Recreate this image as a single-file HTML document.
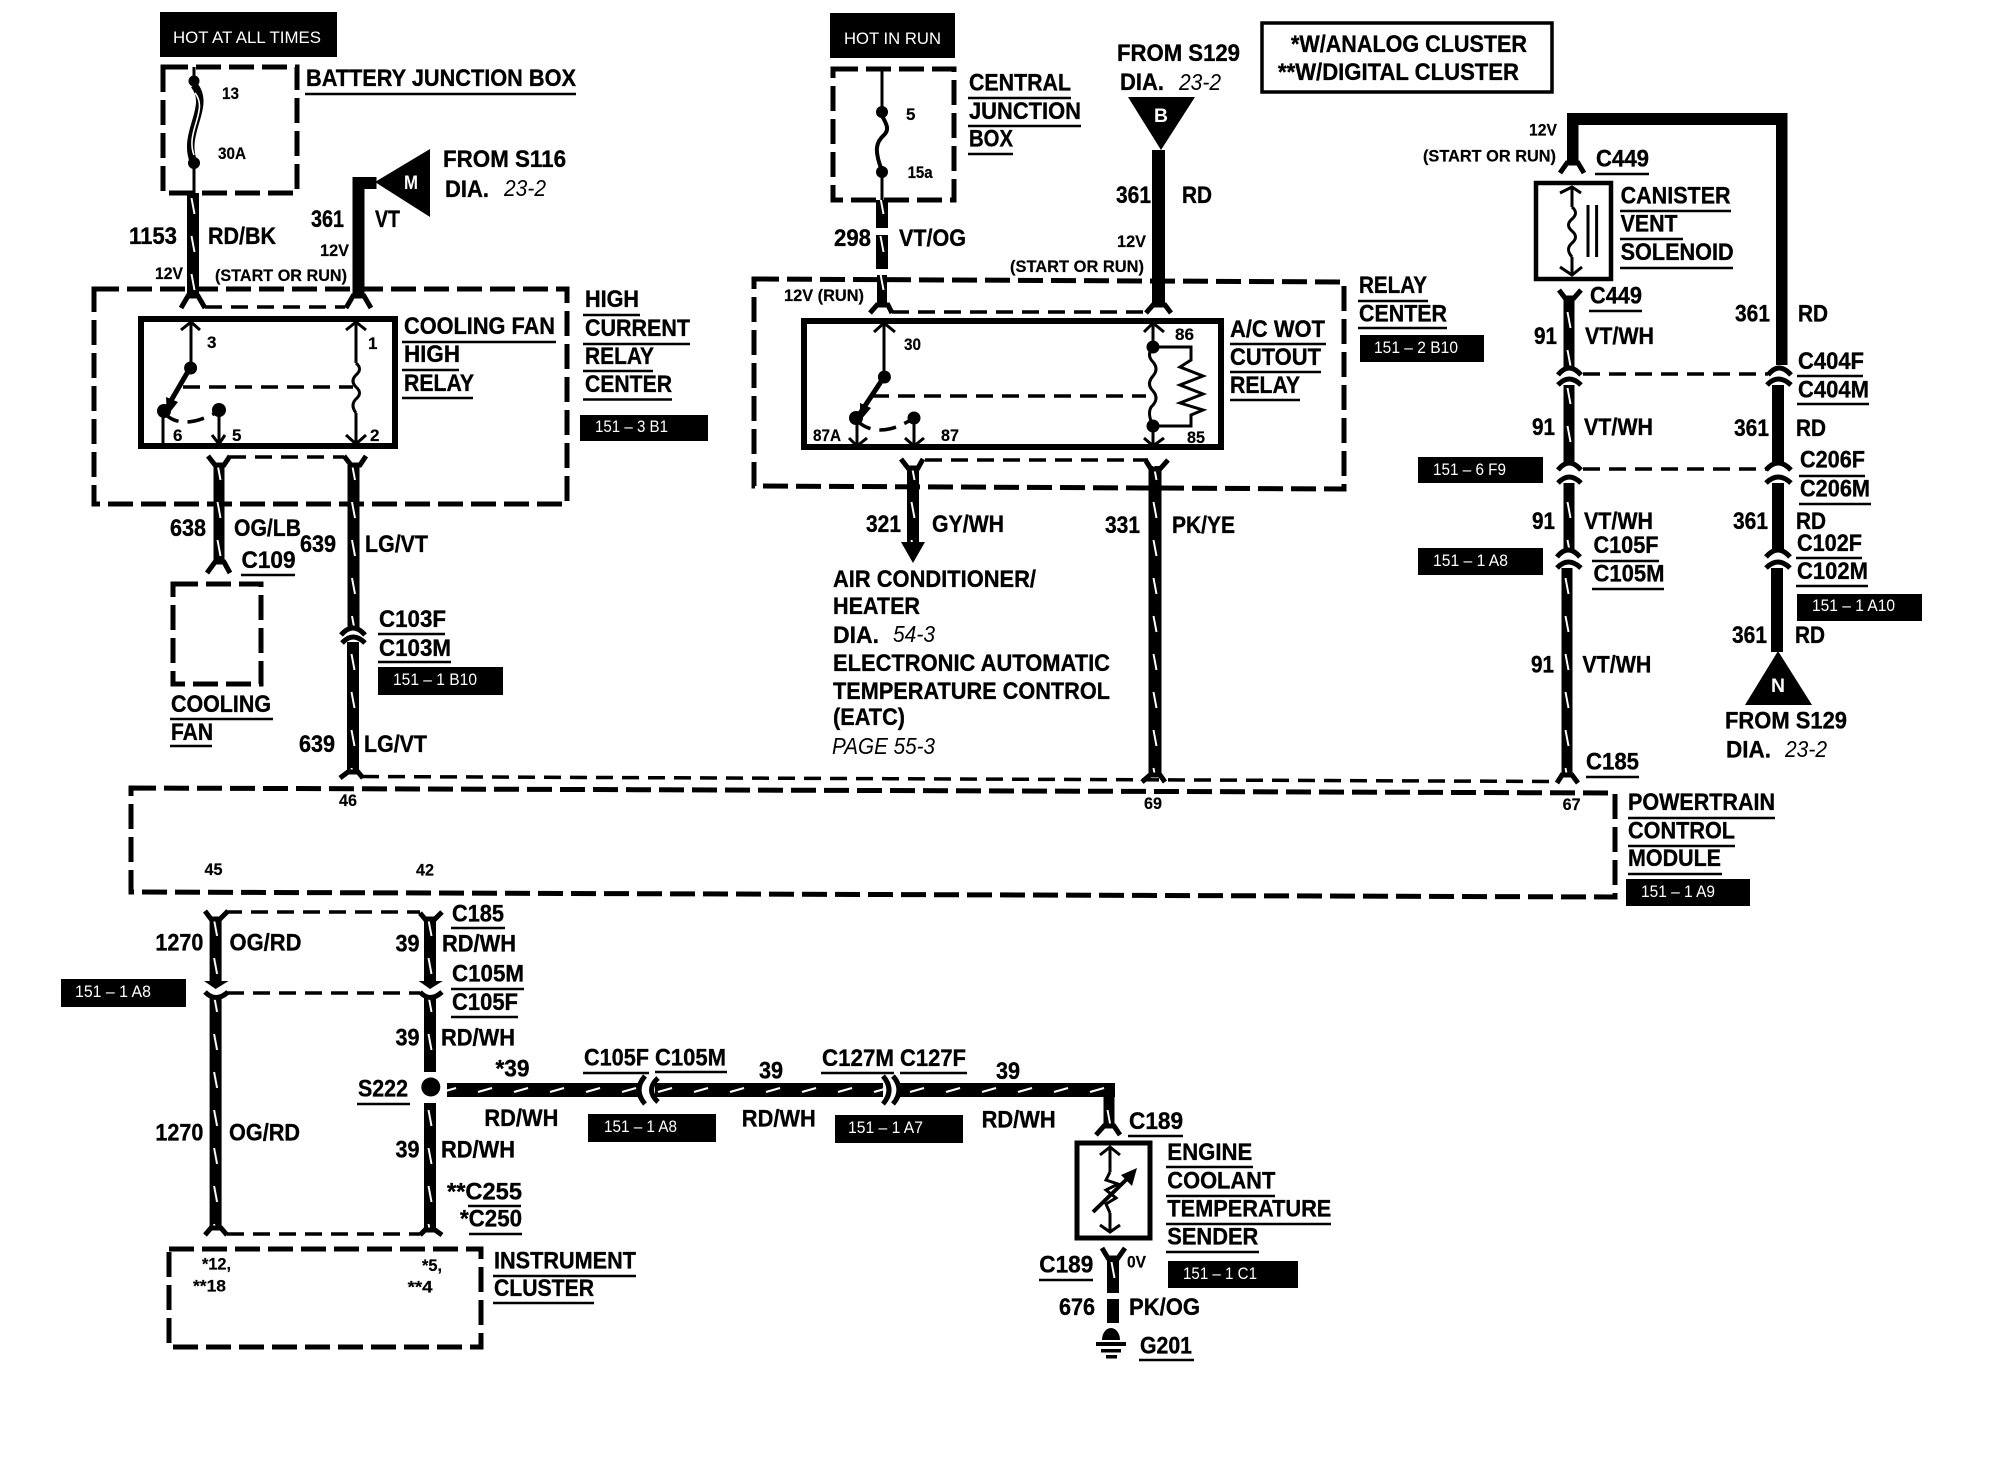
<!DOCTYPE html>
<html><head><meta charset="utf-8"><style>
html,body{margin:0;padding:0;background:#fff}
svg{display:block}
text{font-family:"Liberation Sans",sans-serif;font-weight:bold;font-size:24px;fill:#000;stroke:#000;stroke-width:.35px}
.s{font-size:17px;stroke-width:.2px}
.t{font-size:17px;font-weight:normal;fill:#fff;stroke:none}
.i{font-size:23px;font-weight:normal;font-style:italic;stroke:none}
.w{fill:#fff;font-size:19px;stroke:none}
.d5{fill:none;stroke:#000;stroke-width:5;stroke-dasharray:25 8}
.d3{fill:none;stroke:#000;stroke-width:3.5;stroke-dasharray:17 9}
.l{fill:none;stroke:#000;stroke-width:3}
.c{fill:none;stroke:#000;stroke-width:5}
.u{fill:none;stroke:#000;stroke-width:2.5}
</style></head><body>
<svg xmlns="http://www.w3.org/2000/svg" width="1998" height="1472" viewBox="0 0 1998 1472">
<defs>
<pattern id="v" patternUnits="userSpaceOnUse" x="-6" y="0" width="12" height="38"><rect x="0" y="0" width="12" height="38" fill="#000"/><line x1="4.5" y1="8" x2="7.5" y2="24" stroke="#fff" stroke-width="2"/></pattern>
<pattern id="h" patternUnits="userSpaceOnUse" x="0" y="-7" width="36" height="14"><rect x="0" y="0" width="36" height="14" fill="#000"/><line x1="10" y1="9" x2="24" y2="5" stroke="#fff" stroke-width="2.2"/></pattern>
</defs>
<rect width="1998" height="1472" fill="#fff"/>

<!-- black tags -->
<g fill="#000">
<rect x="160" y="12" width="177" height="45"/><rect x="830" y="13" width="125" height="45"/>
<rect x="580" y="415" width="128" height="26"/><rect x="378" y="667" width="125" height="28"/>
<rect x="1360" y="335" width="124" height="27"/><rect x="1418" y="457" width="125" height="26"/>
<rect x="1418" y="548" width="125" height="27"/><rect x="1797" y="594" width="125" height="27"/>
<rect x="1626" y="879" width="124" height="27"/><rect x="61" y="979" width="125" height="28"/>
<rect x="588" y="1114" width="128" height="28"/><rect x="835" y="1115" width="128" height="28"/>
<rect x="1168" y="1261" width="130" height="27"/>
</g>
<text class="t" x="173" y="43" textLength="148" lengthAdjust="spacingAndGlyphs">HOT AT ALL TIMES</text>
<text class="t" x="844" y="44" textLength="97" lengthAdjust="spacingAndGlyphs">HOT IN RUN</text>
<text class="t" x="595" y="432" textLength="73" lengthAdjust="spacingAndGlyphs">151 – 3 B1</text>
<text class="t" x="393" y="685" textLength="84" lengthAdjust="spacingAndGlyphs">151 – 1 B10</text>
<text class="t" x="1374" y="353" textLength="84" lengthAdjust="spacingAndGlyphs">151 – 2 B10</text>
<text class="t" x="1433" y="475" textLength="73" lengthAdjust="spacingAndGlyphs">151 – 6 F9</text>
<text class="t" x="1433" y="566" textLength="75" lengthAdjust="spacingAndGlyphs">151 – 1 A8</text>
<text class="t" x="1812" y="611" textLength="83" lengthAdjust="spacingAndGlyphs">151 – 1 A10</text>
<text class="t" x="1641" y="897" textLength="74" lengthAdjust="spacingAndGlyphs">151 – 1 A9</text>
<text class="t" x="75" y="997" textLength="76" lengthAdjust="spacingAndGlyphs">151 – 1 A8</text>
<text class="t" x="604" y="1132" textLength="73" lengthAdjust="spacingAndGlyphs">151 – 1 A8</text>
<text class="t" x="848" y="1133" textLength="75" lengthAdjust="spacingAndGlyphs">151 – 1 A7</text>
<text class="t" x="1183" y="1279" textLength="74" lengthAdjust="spacingAndGlyphs">151 – 1 C1</text>

<!-- dashed module boxes -->
<path class="d5" d="M163 67H297V193H163Z"/>
<path class="d5" d="M94 289H567V504H94Z"/>
<path class="d5" d="M833 69H954V200H833Z"/>
<path class="d5" d="M754 279L1344 282V489L754 486Z"/>
<path class="d5" d="M173 584H261V684H173Z"/>
<path class="d5" d="M131 788L1615 793V897L131 892Z"/>
<path class="d5" d="M169 1249H481V1347H169Z"/>

<!-- thin dashed links -->
<path class="d3" d="M205 307H345M229 457H344M892 312H1148M925 460H1148M1583 374H1768M1583 469H1768M362 776.5L1557 781.5M225 912H420M227 993H420M227 1234H420"/>

<!-- solid boxes -->
<g fill="none" stroke="#000">
<rect x="141" y="319" width="254" height="127" stroke-width="6"/>
<rect x="804" y="321" width="417" height="126" stroke-width="6"/>
<rect x="1536" y="183" width="75" height="96" stroke-width="4.5"/>
<rect x="1077" y="1143" width="73" height="95" stroke-width="5"/>
<rect x="1262" y="23" width="290" height="69" stroke-width="3.5"/>
</g>

<!-- striped wires -->
<g fill="url(#v)">
<rect transform="translate(193,0)" x="-6" y="193" width="12" height="102"/>
<rect transform="translate(219,0)" x="-5.5" y="465" width="11" height="98"/>
<rect transform="translate(353.5,0)" x="-6" y="465" width="12" height="162"/>
<rect transform="translate(353,0)" x="-6" y="642" width="12" height="131"/>
<rect transform="translate(882,0)" x="-6" y="200" width="12" height="28"/>
<rect transform="translate(882,0)" x="-6" y="235" width="12" height="34"/>
<rect transform="translate(882,0)" x="-5" y="275" width="10" height="32"/>
<rect transform="translate(913,0)" x="-6" y="466" width="12" height="76"/>
<rect transform="translate(1155,0)" x="-6.5" y="466" width="13" height="309"/>
<rect transform="translate(1569,0)" x="-5.5" y="298" width="11" height="70"/>
<rect transform="translate(1569,0)" x="-5.5" y="385" width="11" height="78"/>
<rect transform="translate(1569,0)" x="-5.5" y="483" width="11" height="67"/>
<rect transform="translate(1567,0)" x="-5.5" y="568" width="11" height="207"/>
<rect transform="translate(215.6,0)" x="-6" y="918" width="12" height="64"/>
<rect transform="translate(215.6,0)" x="-6" y="998" width="12" height="230"/>
<rect transform="translate(430,0)" x="-6" y="918" width="12" height="64"/>
<rect transform="translate(430,0)" x="-6" y="998" width="12" height="74"/>
<rect transform="translate(430,0)" x="-6" y="1103" width="12" height="127"/>
<rect transform="translate(1109,0)" x="-5.5" y="1090" width="11" height="36"/>
<rect transform="translate(1113,0)" x="-6" y="1258" width="12" height="35"/>
</g>
<g fill="url(#h)">
<rect transform="translate(0,1090)" x="447" y="-7" width="191" height="14"/>
<rect transform="translate(0,1090)" x="655" y="-7" width="228" height="14"/>
<rect transform="translate(0,1090)" x="900" y="-7" width="215" height="14"/>
</g>

<!-- solid wires -->
<g fill="#000">
<rect x="352.5" y="177" width="12" height="118"/><rect x="352.5" y="177" width="24" height="12"/>
<rect x="1152" y="150" width="13" height="155"/>
<rect x="1567" y="113" width="220" height="12"/><rect x="1567" y="113" width="11.5" height="50"/><rect x="1776" y="113" width="11.5" height="252"/>
<rect x="1772" y="385" width="12" height="78"/><rect x="1772" y="483" width="12" height="67"/><rect x="1771" y="568" width="12" height="84"/>
<rect x="1107" y="1299" width="12" height="24"/>
<path d="M375 182L430 149V217Z"/>
<path d="M1128 97H1195L1161 150Z"/>
<path d="M1778 651L1745 705H1812Z"/>
<path d="M901 542H925L913 563Z"/>
<path d="M204 981L228.6 981L215.6 989Z"/>
<path d="M418.7 981L442.8 981L430 989Z"/>
<circle cx="430.8" cy="1087" r="9.5"/>
<path d="M1102 1340a9 12 0 0 1 18 0Z"/><rect x="1096" y="1342" width="30" height="4"/><rect x="1101" y="1349" width="20" height="3.5"/><rect x="1106" y="1355" width="11" height="3.5"/>
</g>
<text class="w" x="404" y="189" textLength="14" lengthAdjust="spacingAndGlyphs">M</text>
<text class="w" x="1154" y="122" textLength="14" lengthAdjust="spacingAndGlyphs">B</text>
<text class="w" x="1771" y="692" textLength="14" lengthAdjust="spacingAndGlyphs">N</text>

<!-- connectors -->
<path class="c" d="M181 308L188 296H198L205 308M346 308L353 296H364L371 308
M208 456L215 465H224L230 456M344 456L351 465H360L366 456
M207 573L215 562H224L230 573M341 635Q353 621 365 635M342 643Q353 631 365 643M340 778L348 772H358L363 778
M870 313L877 305H888L892 313M1146 313L1153 305H1165L1171 313
M901 459L908 468H918L923 459M1146 461L1151 469H1160L1168 460
M1142 782L1150 775H1160L1165 782
M1560 173L1567 163H1578L1584 173M1559 290L1565 298H1574L1581 290M1558 375Q1569 361 1581 375M1768 375Q1779 361 1791 375M1558 385Q1569 373 1581 385M1767 385Q1778 373 1791 385
M1558 470Q1569 456 1581 470M1766 470Q1778 456 1791 470M1558 483Q1569 471 1581 483M1766 483Q1778 471 1791 483
M1557 557Q1568 543 1580 557M1766 557Q1778 543 1790 557M1557 568Q1568 556 1581 568M1766 568Q1778 556 1790 568M1557 783L1562 775H1572L1578 783
M205 911L211 919H220L228 911M420 913L425 919H435L442 912M205 992Q216 1003 228 992M420 992Q430 1003 442 992M205 1235L211 1228H221L227 1235M420 1235L425 1230H435L442 1235
M645 1076Q633 1090 645 1104M658 1078Q645 1090 658 1102M883 1076Q895 1090 883 1104M893 1076Q905 1090 893 1104
M1096 1135L1104 1126H1114L1120 1135M1102 1248L1108 1258H1118L1125 1248"/>

<!-- fuses -->
<path class="l" d="M194 67V81M194 163V193M882 69V112M882 172V200" stroke-width="3.5"/>
<path fill="none" stroke="#000" stroke-width="7.5" d="M194 85C212 107 181 133 194 163"/>
<path fill="none" stroke="#fff" stroke-width="1.6" d="M195 93C209 110 185 132 194 155"/>
<path fill="none" stroke="#000" stroke-width="4" d="M881 114C888 126 889 130 884 135C876 142 874 150 881.700 170"/>
<g fill="#000"><circle cx="194" cy="81" r="5.500"/><circle cx="194" cy="163" r="6"/><circle cx="882" cy="112" r="6"/><circle cx="882" cy="172" r="6"/></g>

<!-- cooling fan relay internals -->
<path class="l" d="M191 322V368M181 330L191 322L200 330M356 322V363M346 330L356 322L366 330M356 413V446M346 435L356 444L366 435M219 411V446M212 435L219 444L225 435M163 411V446"/>
<path fill="none" stroke="#000" stroke-width="5" d="M190 368L165 411"/>
<path d="M166 397L178 402L167 416Z" fill="#000"/>
<path class="d3" d="M183 387H353"/>
<path class="d3" stroke-dasharray="13 5" d="M164 413Q182 432 219 411"/>
<path class="l" stroke-width="4" d="M356 363q7 6 0 12q-6 6 0 12q7 6 0 12q-6 6 0 14"/>
<g fill="#000"><circle cx="190.600" cy="368" r="6.500"/><circle cx="164" cy="411" r="7"/><circle cx="219" cy="410" r="7"/></g>

<!-- A/C relay internals -->
<path class="l" d="M884 323V377M874 332L884 323L895 332M857 418V446M849 438L857 446L867 438M914 418V446M905 438L914 446L924 438M1153 323V347M1144 332L1153 323L1164 332M1153 426V446M1144 438L1153 446L1164 438M1153 347H1191V360L1180 367L1203 376L1180 385L1203 394L1180 403L1203 410L1191 415V426H1153"/>
<path fill="none" stroke="#000" stroke-width="5" d="M884 377L857 418"/>
<path d="M860 403L871 408L860 421Z" fill="#000"/>
<path class="d3" d="M872 396H1146"/>
<path class="d3" stroke-dasharray="13 5" d="M856 420Q878 441 914 418"/>
<path class="l" stroke-width="4" d="M1153 347q-7 8 0 15q6 7 0 14q-7 8 0 15q6 7 0 14q-7 6 0 21"/>
<g fill="#000"><circle cx="884.400" cy="377" r="6.500"/><circle cx="856" cy="418" r="7"/><circle cx="914" cy="418" r="6.500"/><circle cx="1153" cy="347" r="6.500"/><circle cx="1153" cy="426" r="6.500"/></g>

<!-- solenoid internals -->
<path class="l" d="M1572 187V207M1560 193L1572 187L1581 193M1572 257V275M1560 267L1572 275L1582 267"/>
<path class="l" stroke-width="4" d="M1572 207q7 6 0 12q-7 6 0 12q7 6 0 12q-7 6 0 14"/>
<path class="l" d="M1588 205V257M1596.600 205V257"/>

<!-- sender internals -->
<path class="l" d="M1110 1147V1172M1100 1155L1110 1147L1120 1155M1110 1213V1232M1100 1225L1110 1232L1120 1225M1110 1172L1106 1180L1118 1184L1106 1190L1116 1198L1106 1204L1110 1213"/>
<path fill="none" stroke="#000" stroke-width="4" d="M1093 1212L1130 1176"/>
<path d="M1137 1168L1132 1186L1121 1175Z" fill="#000"/>

<!-- underlines -->
<path class="u" d="M305 94H576M402 342H556M402 370H459M402 398H473M583 315H640M583 344H690M583 371H653M583 399.500H672
M968 98H1071M968 126H1081M968 154H1013M1230 344H1326M1230 372H1321M1230 400H1300M1358 301H1428M1358 328H1447
M1595 174H1649M1620 211H1731M1620 239H1683M1620 268H1733M1589 311H1642M1797 376H1863M1797 404H1869M1799 476H1865M1799 504H1871
M1592 561H1659M1592 589H1664M1796 558H1862M1796 586H1868M1586 777H1639M1628 818H1775M1628 846H1735M1628 874H1722
M241 575H295M378 634H445M378 662H451M170 719H273M170 746H212
M451 928H505M451 989H524M451 1017H518M357 1104H410M583 1073H649M655 1072H727M821 1073H894M900 1073H967
M468 1206H521M469 1234H522M493 1276H636M493 1303H594M1128 1136H1183M1166 1167H1253M1166 1196H1275M1166 1224H1331M1166 1252H1259M1039 1280H1093M1139 1360H1194"/>

<!-- titles and labels -->
<text x="306" y="86" textLength="270" lengthAdjust="spacingAndGlyphs">BATTERY JUNCTION BOX</text>
<text class="s" x="222" y="99" textLength="17" lengthAdjust="spacingAndGlyphs">13</text>
<text class="s" x="218" y="159" textLength="28" lengthAdjust="spacingAndGlyphs">30A</text>
<text x="129" y="244" textLength="48" lengthAdjust="spacingAndGlyphs">1153</text>
<text x="208" y="244" textLength="68" lengthAdjust="spacingAndGlyphs">RD/BK</text>
<text class="s" x="155" y="279" textLength="28" lengthAdjust="spacingAndGlyphs">12V</text>
<text class="s" x="215" y="281" textLength="132" lengthAdjust="spacingAndGlyphs">(START OR RUN)</text>
<text class="s" x="320" y="256" textLength="29" lengthAdjust="spacingAndGlyphs">12V</text>
<text x="443" y="167" textLength="123" lengthAdjust="spacingAndGlyphs">FROM S116</text>
<text x="445" y="197" textLength="44" lengthAdjust="spacingAndGlyphs">DIA.</text>
<text class="i" x="504" y="196" textLength="42" lengthAdjust="spacingAndGlyphs">23-2</text>
<text x="311" y="227" textLength="33" lengthAdjust="spacingAndGlyphs">361</text>
<text x="375" y="227" textLength="25" lengthAdjust="spacingAndGlyphs">VT</text>
<text x="404" y="334" textLength="151" lengthAdjust="spacingAndGlyphs">COOLING FAN</text>
<text x="404" y="362" textLength="56" lengthAdjust="spacingAndGlyphs">HIGH</text>
<text x="404" y="391" textLength="70" lengthAdjust="spacingAndGlyphs">RELAY</text>
<text x="585" y="307" textLength="54" lengthAdjust="spacingAndGlyphs">HIGH</text>
<text x="585" y="336" textLength="105" lengthAdjust="spacingAndGlyphs">CURRENT</text>
<text x="585" y="364" textLength="69" lengthAdjust="spacingAndGlyphs">RELAY</text>
<text x="585" y="392" textLength="87" lengthAdjust="spacingAndGlyphs">CENTER</text>
<text class="s" x="207" y="348">3</text><text class="s" x="368" y="349">1</text>
<text class="s" x="173" y="441">6</text><text class="s" x="232" y="441">5</text><text class="s" x="370" y="441">2</text>
<text x="170" y="536" textLength="36" lengthAdjust="spacingAndGlyphs">638</text>
<text x="234" y="536" textLength="67" lengthAdjust="spacingAndGlyphs">OG/LB</text>
<text x="241.500" y="568" textLength="54" lengthAdjust="spacingAndGlyphs">C109</text>
<text x="300" y="552" textLength="36" lengthAdjust="spacingAndGlyphs">639</text>
<text x="365" y="552" textLength="63" lengthAdjust="spacingAndGlyphs">LG/VT</text>
<text x="379" y="627" textLength="67" lengthAdjust="spacingAndGlyphs">C103F</text>
<text x="379" y="656" textLength="72" lengthAdjust="spacingAndGlyphs">C103M</text>
<text x="171" y="712" textLength="100" lengthAdjust="spacingAndGlyphs">COOLING</text>
<text x="171" y="740" textLength="42" lengthAdjust="spacingAndGlyphs">FAN</text>
<text x="299" y="752" textLength="36" lengthAdjust="spacingAndGlyphs">639</text>
<text x="364" y="752" textLength="63" lengthAdjust="spacingAndGlyphs">LG/VT</text>
<text class="s" x="339" y="806" textLength="18" lengthAdjust="spacingAndGlyphs">46</text>
<text class="s" x="204.500" y="875" textLength="18" lengthAdjust="spacingAndGlyphs">45</text>
<text class="s" x="416" y="875.500" textLength="18" lengthAdjust="spacingAndGlyphs">42</text>

<text class="s" x="906" y="120">5</text>
<text class="s" x="907.600" y="178" textLength="25" lengthAdjust="spacingAndGlyphs">15a</text>
<text x="969" y="90.700" textLength="102" lengthAdjust="spacingAndGlyphs">CENTRAL</text>
<text x="969" y="119" textLength="112" lengthAdjust="spacingAndGlyphs">JUNCTION</text>
<text x="969" y="146.700" textLength="44" lengthAdjust="spacingAndGlyphs">BOX</text>
<text x="834" y="246" textLength="37" lengthAdjust="spacingAndGlyphs">298</text>
<text x="899" y="246" textLength="67" lengthAdjust="spacingAndGlyphs">VT/OG</text>
<text class="s" x="784" y="301" textLength="80" lengthAdjust="spacingAndGlyphs">12V (RUN)</text>
<text x="1117" y="61" textLength="123" lengthAdjust="spacingAndGlyphs">FROM S129</text>
<text x="1120" y="90" textLength="44" lengthAdjust="spacingAndGlyphs">DIA.</text>
<text class="i" x="1179" y="90" textLength="42" lengthAdjust="spacingAndGlyphs">23-2</text>
<text x="1116" y="203" textLength="35" lengthAdjust="spacingAndGlyphs">361</text>
<text x="1182" y="203" textLength="30" lengthAdjust="spacingAndGlyphs">RD</text>
<text class="s" x="1117" y="247" textLength="29" lengthAdjust="spacingAndGlyphs">12V</text>
<text class="s" x="1010" y="272" textLength="134" lengthAdjust="spacingAndGlyphs">(START OR RUN)</text>
<text class="s" x="813" y="441" textLength="28" lengthAdjust="spacingAndGlyphs">87A</text>
<text class="s" x="941" y="441" textLength="18" lengthAdjust="spacingAndGlyphs">87</text>
<text class="s" x="904" y="350" textLength="17" lengthAdjust="spacingAndGlyphs">30</text>
<text class="s" x="1175" y="340" textLength="19" lengthAdjust="spacingAndGlyphs">86</text>
<text class="s" x="1187" y="443" textLength="18" lengthAdjust="spacingAndGlyphs">85</text>
<text x="1230" y="337" textLength="95" lengthAdjust="spacingAndGlyphs">A/C WOT</text>
<text x="1230" y="365" textLength="91" lengthAdjust="spacingAndGlyphs">CUTOUT</text>
<text x="1230" y="393" textLength="70" lengthAdjust="spacingAndGlyphs">RELAY</text>
<text x="1359" y="293" textLength="68" lengthAdjust="spacingAndGlyphs">RELAY</text>
<text x="1359" y="321.700" textLength="88" lengthAdjust="spacingAndGlyphs">CENTER</text>
<text x="1291" y="52" textLength="236" lengthAdjust="spacingAndGlyphs">*W/ANALOG CLUSTER</text>
<text x="1278" y="80" textLength="241" lengthAdjust="spacingAndGlyphs">**W/DIGITAL CLUSTER</text>

<text x="866" y="532" textLength="35" lengthAdjust="spacingAndGlyphs">321</text>
<text x="932" y="532" textLength="72" lengthAdjust="spacingAndGlyphs">GY/WH</text>
<text x="1105" y="533" textLength="35" lengthAdjust="spacingAndGlyphs">331</text>
<text x="1172" y="533" textLength="63" lengthAdjust="spacingAndGlyphs">PK/YE</text>
<text x="833" y="587" textLength="203" lengthAdjust="spacingAndGlyphs">AIR CONDITIONER/</text>
<text x="833" y="614" textLength="87" lengthAdjust="spacingAndGlyphs">HEATER</text>
<text x="833" y="643" textLength="46" lengthAdjust="spacingAndGlyphs">DIA.</text>
<text class="i" x="893" y="642" textLength="42" lengthAdjust="spacingAndGlyphs">54-3</text>
<text x="833" y="671" textLength="277" lengthAdjust="spacingAndGlyphs">ELECTRONIC AUTOMATIC</text>
<text x="833" y="699" textLength="277" lengthAdjust="spacingAndGlyphs">TEMPERATURE CONTROL</text>
<text x="833" y="725" textLength="72" lengthAdjust="spacingAndGlyphs">(EATC)</text>
<text class="i" x="832" y="754" textLength="103" lengthAdjust="spacingAndGlyphs">PAGE 55-3</text>
<text class="s" x="1144" y="809" textLength="18" lengthAdjust="spacingAndGlyphs">69</text>

<text class="s" x="1529" y="135.700" textLength="28" lengthAdjust="spacingAndGlyphs">12V</text>
<text class="s" x="1423" y="161.700" textLength="133" lengthAdjust="spacingAndGlyphs">(START OR RUN)</text>
<text x="1596" y="166.700" textLength="53" lengthAdjust="spacingAndGlyphs">C449</text>
<text x="1620.600" y="203.300" textLength="110" lengthAdjust="spacingAndGlyphs">CANISTER</text>
<text x="1620.600" y="231.700" textLength="57" lengthAdjust="spacingAndGlyphs">VENT</text>
<text x="1620.600" y="260" textLength="113" lengthAdjust="spacingAndGlyphs">SOLENOID</text>
<text x="1590" y="303.300" textLength="52" lengthAdjust="spacingAndGlyphs">C449</text>
<text x="1534" y="344" textLength="23" lengthAdjust="spacingAndGlyphs">91</text>
<text x="1585" y="344" textLength="69" lengthAdjust="spacingAndGlyphs">VT/WH</text>
<text x="1735" y="321.700" textLength="35" lengthAdjust="spacingAndGlyphs">361</text>
<text x="1798" y="321.700" textLength="30" lengthAdjust="spacingAndGlyphs">RD</text>
<text x="1798" y="369" textLength="66" lengthAdjust="spacingAndGlyphs">C404F</text>
<text x="1798" y="397.700" textLength="71" lengthAdjust="spacingAndGlyphs">C404M</text>
<text x="1532" y="435" textLength="23" lengthAdjust="spacingAndGlyphs">91</text>
<text x="1584" y="435" textLength="69" lengthAdjust="spacingAndGlyphs">VT/WH</text>
<text x="1734" y="436" textLength="35" lengthAdjust="spacingAndGlyphs">361</text>
<text x="1796" y="436" textLength="30" lengthAdjust="spacingAndGlyphs">RD</text>
<text x="1800" y="467.700" textLength="65" lengthAdjust="spacingAndGlyphs">C206F</text>
<text x="1800" y="496.700" textLength="70" lengthAdjust="spacingAndGlyphs">C206M</text>
<text x="1532" y="529" textLength="23" lengthAdjust="spacingAndGlyphs">91</text>
<text x="1584" y="529" textLength="69" lengthAdjust="spacingAndGlyphs">VT/WH</text>
<text x="1733" y="529" textLength="35" lengthAdjust="spacingAndGlyphs">361</text>
<text x="1796" y="529" textLength="30" lengthAdjust="spacingAndGlyphs">RD</text>
<text x="1593.500" y="553" textLength="65" lengthAdjust="spacingAndGlyphs">C105F</text>
<text x="1593.500" y="581.300" textLength="71" lengthAdjust="spacingAndGlyphs">C105M</text>
<text x="1797" y="551" textLength="65" lengthAdjust="spacingAndGlyphs">C102F</text>
<text x="1797" y="579" textLength="71" lengthAdjust="spacingAndGlyphs">C102M</text>
<text x="1732" y="643" textLength="35" lengthAdjust="spacingAndGlyphs">361</text>
<text x="1795" y="643" textLength="30" lengthAdjust="spacingAndGlyphs">RD</text>
<text x="1531" y="672.700" textLength="23" lengthAdjust="spacingAndGlyphs">91</text>
<text x="1582.400" y="672.700" textLength="69" lengthAdjust="spacingAndGlyphs">VT/WH</text>
<text x="1725" y="728.300" textLength="122" lengthAdjust="spacingAndGlyphs">FROM S129</text>
<text x="1726" y="757.300" textLength="45" lengthAdjust="spacingAndGlyphs">DIA.</text>
<text class="i" x="1785" y="757" textLength="42" lengthAdjust="spacingAndGlyphs">23-2</text>
<text x="1586" y="769.300" textLength="53" lengthAdjust="spacingAndGlyphs">C185</text>
<text class="s" x="1562.600" y="810" textLength="18" lengthAdjust="spacingAndGlyphs">67</text>
<text x="1628" y="810" textLength="147" lengthAdjust="spacingAndGlyphs">POWERTRAIN</text>
<text x="1628" y="838.300" textLength="107" lengthAdjust="spacingAndGlyphs">CONTROL</text>
<text x="1628" y="866" textLength="93" lengthAdjust="spacingAndGlyphs">MODULE</text>

<text x="155.400" y="950.700" textLength="48" lengthAdjust="spacingAndGlyphs">1270</text>
<text x="229.500" y="950.700" textLength="72" lengthAdjust="spacingAndGlyphs">OG/RD</text>
<text x="395.500" y="951.700" textLength="24" lengthAdjust="spacingAndGlyphs">39</text>
<text x="442" y="951.700" textLength="74" lengthAdjust="spacingAndGlyphs">RD/WH</text>
<text x="452" y="921.700" textLength="52" lengthAdjust="spacingAndGlyphs">C185</text>
<text x="452" y="981.700" textLength="72" lengthAdjust="spacingAndGlyphs">C105M</text>
<text x="452" y="1010" textLength="66" lengthAdjust="spacingAndGlyphs">C105F</text>
<text x="395.500" y="1045.700" textLength="24" lengthAdjust="spacingAndGlyphs">39</text>
<text x="441" y="1045.700" textLength="74" lengthAdjust="spacingAndGlyphs">RD/WH</text>
<text x="358" y="1096.700" textLength="50" lengthAdjust="spacingAndGlyphs">S222</text>
<text x="495.500" y="1076.700" textLength="34" lengthAdjust="spacingAndGlyphs">*39</text>
<text x="484.400" y="1126" textLength="74" lengthAdjust="spacingAndGlyphs">RD/WH</text>
<text x="584" y="1065.700" textLength="65" lengthAdjust="spacingAndGlyphs">C105F</text>
<text x="655" y="1065.700" textLength="71" lengthAdjust="spacingAndGlyphs">C105M</text>
<text x="759" y="1078.300" textLength="24" lengthAdjust="spacingAndGlyphs">39</text>
<text x="741.800" y="1126.700" textLength="74" lengthAdjust="spacingAndGlyphs">RD/WH</text>
<text x="822" y="1066" textLength="72" lengthAdjust="spacingAndGlyphs">C127M</text>
<text x="900" y="1066" textLength="66" lengthAdjust="spacingAndGlyphs">C127F</text>
<text x="996" y="1079" textLength="24" lengthAdjust="spacingAndGlyphs">39</text>
<text x="981.600" y="1127.700" textLength="74" lengthAdjust="spacingAndGlyphs">RD/WH</text>
<text x="1129" y="1129" textLength="54" lengthAdjust="spacingAndGlyphs">C189</text>
<text x="1167.300" y="1160" textLength="85" lengthAdjust="spacingAndGlyphs">ENGINE</text>
<text x="1167.300" y="1188.300" textLength="108" lengthAdjust="spacingAndGlyphs">COOLANT</text>
<text x="1167.300" y="1216.700" textLength="164" lengthAdjust="spacingAndGlyphs">TEMPERATURE</text>
<text x="1167.300" y="1244.300" textLength="91" lengthAdjust="spacingAndGlyphs">SENDER</text>
<text x="1039.300" y="1272.700" textLength="54" lengthAdjust="spacingAndGlyphs">C189</text>
<text class="s" x="1127" y="1267.700" textLength="19" lengthAdjust="spacingAndGlyphs">0V</text>
<text x="1059" y="1315" textLength="36" lengthAdjust="spacingAndGlyphs">676</text>
<text x="1129" y="1315" textLength="71" lengthAdjust="spacingAndGlyphs">PK/OG</text>
<text x="1140" y="1353.300" textLength="52" lengthAdjust="spacingAndGlyphs">G201</text>
<text x="155.400" y="1140.700" textLength="48" lengthAdjust="spacingAndGlyphs">1270</text>
<text x="229" y="1140.700" textLength="71" lengthAdjust="spacingAndGlyphs">OG/RD</text>
<text x="395.500" y="1157.300" textLength="24" lengthAdjust="spacingAndGlyphs">39</text>
<text x="441" y="1157.300" textLength="74" lengthAdjust="spacingAndGlyphs">RD/WH</text>
<text x="447" y="1199.300" textLength="75" lengthAdjust="spacingAndGlyphs">**C255</text>
<text x="460" y="1226.700" textLength="62" lengthAdjust="spacingAndGlyphs">*C250</text>
<text class="s" x="202" y="1269.300" textLength="29" lengthAdjust="spacingAndGlyphs">*12,</text>
<text class="s" x="193" y="1291.700" textLength="33" lengthAdjust="spacingAndGlyphs">**18</text>
<text class="s" x="422" y="1271" textLength="20" lengthAdjust="spacingAndGlyphs">*5,</text>
<text class="s" x="407.600" y="1292.300" textLength="25" lengthAdjust="spacingAndGlyphs">**4</text>
<text x="494" y="1268.300" textLength="142" lengthAdjust="spacingAndGlyphs">INSTRUMENT</text>
<text x="494" y="1296" textLength="100" lengthAdjust="spacingAndGlyphs">CLUSTER</text>
</svg>
</body></html>
